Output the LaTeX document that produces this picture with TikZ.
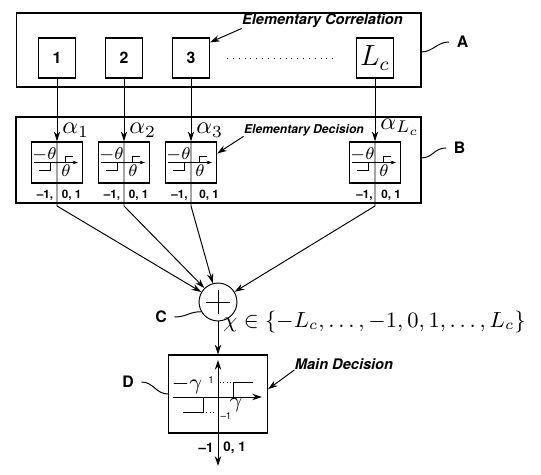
\documentclass[tikz,border=0pt]{standalone}
\usepackage{fontspec}
\setsansfont{TeX Gyre Heros}
\usetikzlibrary{arrows.meta, positioning}

\begin{document}
\begin{tikzpicture}[>={Stealth[length=4pt,width=2.6pt]}, x=0.411pt, y=-0.411pt,
    box/.style={draw, line width=0.5pt, inner sep=0pt},
    lbl/.style={font=\sffamily\bfseries\fontsize{6.5}{7}\selectfont, inner sep=3pt},
    note/.style={font=\sffamily\bfseries\itshape\fontsize{6}{7}\selectfont, inner sep=0pt},
    val/.style={font=\sffamily\bfseries\fontsize{4.8}{6}\selectfont, inner sep=0pt},
    th/.style={font=\scriptsize, inner sep=0pt},
    tip/.style={-{Stealth[length=2.2pt,width=1.5pt]}}]
    \useasboundingbox (0,0) rectangle (541,475);

    % A: 相关器
    \node[box, minimum width=166.2pt, minimum height=30.4pt] (bA) at (218.8,50) {};
    \node[box, minimum width=15.2pt, minimum height=16.4pt, font=\sffamily\bfseries\fontsize{6.5}{7}\selectfont] (c1) at (57,58) {1};
    \node[box, minimum width=15.2pt, minimum height=16.4pt, font=\sffamily\bfseries\fontsize{6.5}{7}\selectfont] (c2) at (124,58) {2};
    \node[box, minimum width=15.2pt, minimum height=16.4pt, font=\sffamily\bfseries\fontsize{6.5}{7}\selectfont] (c3) at (191,58) {3};
    \node[box, minimum width=15.2pt, minimum height=16.4pt, font=\large] (cL) at (375,58) {$L_c$};
    \draw[dotted, shorten <=7pt, shorten >=9.5pt] (c3) -- (cL);
    \node[note] (ec) at (322.5,21) {Elementary Correlation};
    \draw[->] (ec.south west) -- ([yshift=-2pt]c3.north east);

    % B: 判决
    \node[box, minimum width=166.5pt, minimum height=35.3pt] (bB) at (218.5,160) {};
    \node[box, minimum width=21pt, minimum height=16.9pt] (d1) at (57,162.5) {};
    \node[box, minimum width=21pt, minimum height=16.9pt] (d2) at (124,162.5) {};
    \node[box, minimum width=21pt, minimum height=16.9pt] (d3) at (191,162.5) {};
    \node[box, minimum width=21pt, minimum height=16.9pt] (dL) at (375,162.5) {};
    \node[anchor=west, inner sep=0pt] (al1) at (62,130) {$\alpha_1$};
    \node[anchor=west, inner sep=0pt] (al2) at (129,130) {$\alpha_2$};
    \node[anchor=west, inner sep=0pt] (al3) at (196,130) {$\alpha_3$};
    \node[anchor=west, inner sep=0pt] (alL) at (380,127) {$\alpha_{L_c}$};
    \node[note, font=\sffamily\bfseries\itshape\fontsize{5}{6}\selectfont] (ed) at (304,130) {Elementary Decision};
    \draw[->] (ed.south west) -- ([yshift=-5pt]d3.north east);

    % 阶跃
    \draw[tip] (34,162.5) -- (78,162.5);
    \draw (39,170) -- (50,170) -- (50,162.5);
    \draw (65,162.5) -- (65,156.5) -- (73,156.5);
    \node[th] (tm1) at (44.5,155) {$-\theta$};
    \node[th] (tp1) at (66,170.5) {$\theta$};
    \node[val, anchor=east] (vm1) at (53.5,195) {--1,};
    \node[val, anchor=west] (vp1) at (61.5,195) {0, 1};

    \draw[tip] (101,162.5) -- (145,162.5);
    \draw (106,170) -- (117,170) -- (117,162.5);
    \draw (132,162.5) -- (132,156.5) -- (140,156.5);
    \node[th] (tm2) at (111.5,155) {$-\theta$};
    \node[th] (tp2) at (133,170.5) {$\theta$};
    \node[val, anchor=east] (vm2) at (120.5,195) {--1,};
    \node[val, anchor=west] (vp2) at (128.5,195) {0, 1};

    \draw[tip] (168,162.5) -- (212,162.5);
    \draw (173,170) -- (184,170) -- (184,162.5);
    \draw (199,162.5) -- (199,156.5) -- (207,156.5);
    \node[th] (tm3) at (178.5,155) {$-\theta$};
    \node[th] (tp3) at (200,170.5) {$\theta$};
    \node[val, anchor=east] (vm3) at (188,195) {--1,};
    \node[val, anchor=west] (vp3) at (199,195) {0, 1};

    \draw[tip] (352,162.5) -- (396,162.5);
    \draw (357,170) -- (368,170) -- (368,162.5);
    \draw (383,162.5) -- (383,156.5) -- (391,156.5);
    \node[th] (tmL) at (362.5,155) {$-\theta$};
    \node[th] (tpL) at (384,170.5) {$\theta$};
    \node[val, anchor=east] (vmL) at (373,195) {--1,};
    \node[val, anchor=west] (vpL) at (381,195) {0, 1};

    % C: 求和
    \node[draw, circle, minimum size=15.6pt, inner sep=0pt] (sum) at (218,302) {};
    \draw (206,302) -- (230,302) (218,290) -- (218,314);
    \coordinate (k1) at (57,206);
    \coordinate (k2) at (124,206);
    \coordinate (k3) at (191,206);
    \coordinate (kL) at (375,206);
    \draw[->] (c1) -- (d1);
    \draw[->] (c2) -- (d2);
    \draw[->] (c3) -- (d3);
    \draw[->] (cL) -- (dL);
    \draw[->] (d1.north) -- (k1) -- (sum);
    \draw[->] (d2.north) -- (k2) -- (sum);
    \draw[->] (d3.north) -- (k3) -- (sum);
    \draw[->] (dL.north) -- (kL) -- (sum);
    \node[anchor=west, inner sep=0pt, font=\fontsize{9.2}{11}\selectfont] (chi) at (223,322) {$\chi\in\{-L_c,\dots,-1,0,1,\dots,L_c\}$};

    % D: 主判决
    \node[box, minimum width=40.7pt, minimum height=32pt] (mb) at (218,394) {};
    \coordinate (out) at (218,466);
    \draw[->] (sum) -- (mb);
    \draw[->] (mb.south) -- (218,360);
    \draw[->] (mb.south) -- (out);
    \draw[->] (173,397) -- (262,397);
    \draw (183,412) -- (203,412) -- (203,397);
    \draw (233,397) -- (233,382) -- (253,382);
    \draw[densely dotted] (203,412) -- (214,412);
    \draw[densely dotted] (220,382) -- (233,382);
    \node[inner sep=0pt, font=\small] (gm) at (187,385) {$-\gamma$};
    \node[inner sep=0pt, font=\small] (gp) at (236,405) {$\gamma$};
    \node[inner sep=0pt, font=\sffamily\fontsize{4}{5}\selectfont] (one) at (211,380) {1};
    \node[inner sep=0pt, font=\sffamily\fontsize{4}{5}\selectfont] (mone) at (226,416) {--1};
    \node[val, font=\sffamily\bfseries\fontsize{5.5}{6}\selectfont, anchor=east] (om) at (214,448) {--1};
    \node[val, font=\sffamily\bfseries\fontsize{5.5}{6}\selectfont, anchor=west] (op) at (223,448) {0, 1};
    \node[note] (md) at (344,364) {Main Decision};
    \draw[->] (md.south west) -- ([yshift=2pt]mb.east);

    % 标号
    \coordinate (pA) at (421,52);
    \coordinate (pB) at (421,158);
    \node[lbl, anchor=west] (labA) at (449,42) {A};
    \node[lbl, anchor=west] (labB) at (446,148) {B};
    \node[lbl] (labC) at (161,317) {C};
    \node[lbl] (labD) at (128,382) {D};
    \draw (pA) .. controls +(12,0) and +(-12,0) .. (labA.west);
    \draw (pB) .. controls +(12,0) and +(-12,0) .. (labB.west);
    \draw (labC.east) .. controls +(12,0) and +(-12,0) .. (sum.210);
    \draw (labD.east) .. controls +(12,0) and +(-12,0) .. (mb.west);
\end{tikzpicture}
\end{document}
